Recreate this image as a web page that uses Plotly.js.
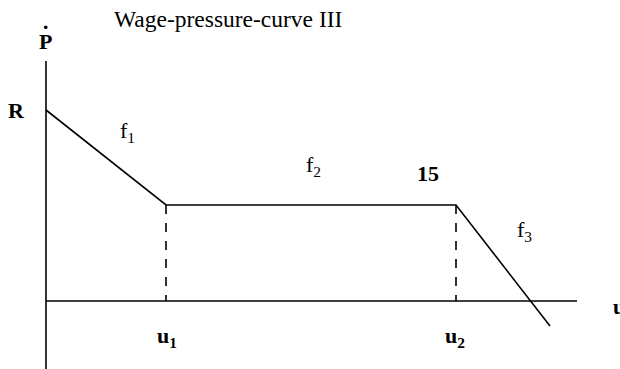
<!DOCTYPE html>
<html>
<head>
<meta charset="utf-8">
<script src="https://cdn.plot.ly/plotly-3.0.1.min.js"></script>
</head>
<body style="margin:0;background:#fff">
<div id="chart" style="width:620px;height:369px"></div>
<script>
// Wage-pressure curve (piecewise linear): unemployment u vs wage inflation P-dot
var curveU = [0, 12, 41, 50.4];
var curveP = [19.1, 9.6, 9.6, -2.5];
// axes
var axisU = [0, 53.1];
var axisPTop = 24;
var axisPBottom = -6.8;
// dashed guides at u1, u2
var u1 = 12, u2 = 41, plateau = 9.6;
// segment labels
var segLabels = ["f<sub>1</sub>", "f<sub>2</sub>", "f<sub>3</sub>"];
var segLabelU = [8.1, 26.7, 47.85];
var segLabelP = [16.9, 13.5, 7.05];

var FAM = "Liberation Serif, Times New Roman, serif";
var lineStyle = {color: "#000", width: 1.6};
var dashStyle = {color: "#000", width: 1.6, dash: "dash"};

var traces = [
  {x: curveU, y: curveP, mode: "lines", line: lineStyle, hoverinfo: "skip"},
  {x: [0, 0], y: [axisPTop, axisPBottom], mode: "lines", line: lineStyle, hoverinfo: "skip"},
  {x: axisU, y: [0, 0], mode: "lines", line: lineStyle, hoverinfo: "skip"},
  {x: [u1, u1], y: [plateau, 0], mode: "lines", line: dashStyle, hoverinfo: "skip"},
  {x: [u2, u2], y: [plateau, 0], mode: "lines", line: dashStyle, hoverinfo: "skip"}
];

function ann(x, y, text, size, xanchor) {
  return {x: x, y: y, text: text, showarrow: false, xanchor: xanchor || "center",
    font: {family: FAM, size: size, color: "#000"}};
}

var annotations = [];
for (var i = 0; i < segLabels.length; i++) {
  annotations.push(ann(segLabelU[i], segLabelP[i], segLabels[i], 22));
}
annotations.push(ann(-2.95, 19.1, "<b>R</b>", 22));
annotations.push(ann(38.15, 12.8, "<b>15</b>", 22));
annotations.push(ann(12.1, -3.6, "<b>u<sub>1</sub></b>", 22));
annotations.push(ann(40.9, -3.6, "<b>u<sub>2</sub></b>", 22));
annotations.push(ann(56.5, -0.5, "<b>u</b>", 22, "left"));
annotations.push(ann(-0.05, 26.0, "<b>P</b>", 22));
annotations.push(ann(-0.05, 27.5, "<b>·</b>", 22));
annotations.push(ann(6.6, 28.2, "Wage-pressure-curve III", 23.5, "left"));

var layout = {
  width: 620, height: 369,
  margin: {l: 0, r: 0, t: 0, b: 0},
  font: {family: FAM, size: 22, color: "#000"},
  paper_bgcolor: "#fff", plot_bgcolor: "#fff",
  showlegend: false,
  xaxis: {range: [-4.6, 57.4], visible: false},
  yaxis: {range: [-6.8, 30.1], visible: false},
  annotations: annotations
};

Plotly.newPlot("chart", traces, layout, {displayModeBar: false}).then(function(gd) {
  // make sure every annotation keeps its font (as style and as SVG attributes)
  var groups = gd.querySelectorAll(".annotation");
  groups.forEach(function(g) {
    var idx = +g.getAttribute("data-index");
    var a = annotations[idx];
    if (!a) return;
    var t = g.querySelector("text");
    if (t) {
      t.style.setProperty("font-family", FAM);
      t.style.setProperty("font-size", a.font.size + "px");
      t.setAttribute("font-family", FAM);
      t.setAttribute("font-size", a.font.size);
    }
  });
});
</script>
</body>
</html>
